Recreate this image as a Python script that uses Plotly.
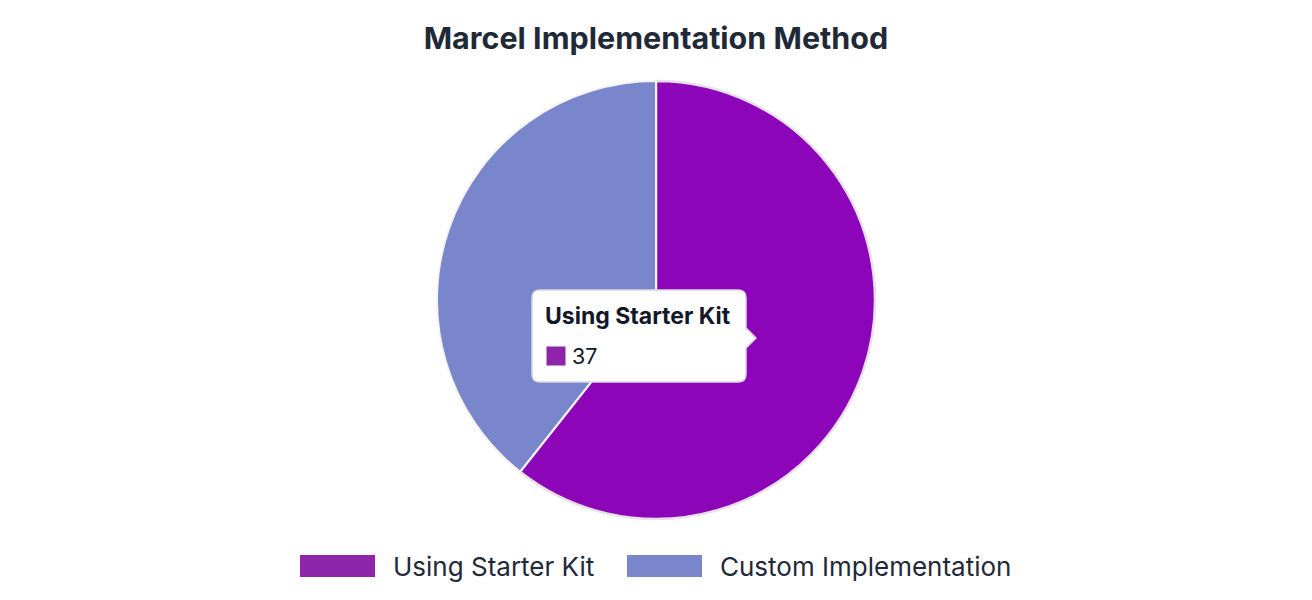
import plotly.graph_objects as go

# data
labels = ["Using Starter Kit", "Custom Implementation"]
values = [37, 24]
slice_colors = ["#8d05b8", "#7986cb"]   # first slice shown in its hover colour
legend_colors = ["#8e24aa", "#7986cb"]
hover_index = 0

W, H = 1312, 600
OFF = 8   # page body margin the figure sits inside
FONT = "Inter, Liberation Sans, Arial, sans-serif"
TEXT = "#1f2937"


def px(x):
    return (x - OFF) / W


def py(y):
    return 1 - (y - OFF) / H


fig = go.Figure()
fig.add_trace(go.Pie(labels=labels,
                     values=values,
                     sort=False,
                     direction="clockwise",
                     rotation=0,
                     textinfo="none",
                     hoverinfo="label+value",
                     marker=dict(colors=slice_colors,
                                 line=dict(color=["#e6e1ea", "#f4f4f6"], width=[2.5, 2])),
                     domain=dict(x=[0, 2 * px(656)], y=[py(519), py(81)]),
                     showlegend=False))

shapes = []
annotations = []

# legend (drawn by hand so the swatches get the wide boxes)
item_x = [300, 627]
for k in range(len(labels)):
    x0 = item_x[k]
    shapes.append(dict(type="rect", xref="paper", yref="paper",
                       x0=px(x0), x1=px(x0 + 75), y0=py(577), y1=py(555),
                       fillcolor=legend_colors[k], line=dict(width=0)))
    annotations.append(dict(text=labels[k], xref="paper", yref="paper",
                            x=px(x0 + 91), y=py(566), xanchor="left", yanchor="middle",
                            showarrow=False, font=dict(family=FONT, size=26, color=TEXT)))

# tooltip box for the hovered slice
l, r, t, b, rad = 532, 746, 290, 382, 8
tip_x, tip_y = 756, 338
path = (f"M{px(l + rad)},{py(t)} L{px(r - rad)},{py(t)} Q{px(r)},{py(t)} {px(r)},{py(t + rad)} "
        f"L{px(r)},{py(tip_y - 10)} L{px(tip_x)},{py(tip_y)} L{px(r)},{py(tip_y + 10)} "
        f"L{px(r)},{py(b - rad)} Q{px(r)},{py(b)} {px(r - rad)},{py(b)} "
        f"L{px(l + rad)},{py(b)} Q{px(l)},{py(b)} {px(l)},{py(b - rad)} "
        f"L{px(l)},{py(t + rad)} Q{px(l)},{py(t)} {px(l + rad)},{py(t)} Z")
shapes.append(dict(type="path", xref="paper", yref="paper", path=path,
                   fillcolor="#ffffff", line=dict(color="#d9d9de", width=1.5)))
shapes.append(dict(type="rect", xref="paper", yref="paper",
                   x0=px(546), x1=px(566), y0=py(366), y1=py(346),
                   fillcolor=legend_colors[hover_index], line=dict(color="#ffffff", width=1)))
annotations.append(dict(text="<b>" + labels[hover_index] + "</b>", xref="paper", yref="paper",
                        x=px(543), y=py(316), xanchor="left", yanchor="middle", showarrow=False,
                        font=dict(family=FONT, size=23, color="#111827")))
annotations.append(dict(text=str(values[hover_index]), xref="paper", yref="paper",
                        x=px(570), y=py(356), xanchor="left", yanchor="middle", showarrow=False,
                        font=dict(family=FONT, size=21.5, color="#111827")))

fig.update_layout(title=dict(text="<b>Marcel Implementation Method</b>",
                             x=px(656), xanchor="center", y=py(38), yanchor="middle",
                             font=dict(family=FONT, size=30.5, color=TEXT)),
                  width=W, height=H,
                  margin=dict(l=0, r=0, t=0, b=0),
                  paper_bgcolor="#ffffff",
                  shapes=shapes,
                  annotations=annotations)

fig.write_html("out.html")
